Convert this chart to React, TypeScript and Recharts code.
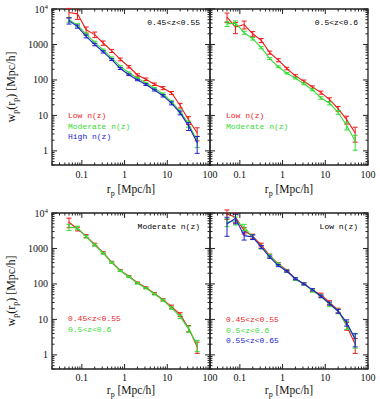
import { LineChart, Line, XAxis, YAxis, ErrorBar, ReferenceArea } from "recharts";

// projected separation bins (Mpc/h)
const rp = [0.05, 0.079, 0.126, 0.2, 0.316, 0.5, 0.794, 1.26, 2.0, 3.16, 5.0, 7.94, 12.6, 20.0, 31.6, 50.1];

// 0.45<z<0.55, split by n(z)
const tlLow = [8000, 7300, 2600, 1900, 1100, 660, 380, 235, 138, 105, 76, 59, 43, 19, 7.4, 3.2];
const tlLowErr = [0.3, 0.3, 0.2, 0.18, 0.14, 0.1, 0.09, 0.08, 0.08, 0.08, 0.08, 0.1, 0.1, 0.15, 0.25, 0.4];
const tlMod = [5000, 3500, 1950, 1150, 700, 420, 240, 160, 112, 82, 58, 40, 24, 13, 5.8, 1.9];
const tlModErr = [0.15, 0.1, 0.08, 0.07, 0.06, 0.06, 0.05, 0.05, 0.05, 0.05, 0.06, 0.07, 0.08, 0.1, 0.2, 0.35];
const tlHigh = [4700, 3200, 1700, 1000, 620, 375, 210, 140, 100, 74, 52, 36, 22, 11.8, 5.0, 1.7];
const tlHighErr = [0.2, 0.1, 0.1, 0.08, 0.07, 0.06, 0.06, 0.05, 0.05, 0.06, 0.06, 0.08, 0.1, 0.12, 0.25, 0.5];

// 0.5<z<0.6
const trLow = [5900, 3100, 3650, 2000, 1300, 590, 360, 210, 130, 92, 63, 44, 28, 15.5, 7.6, 3.2];
const trLowErr = [0.3, 0.35, 0.25, 0.15, 0.13, 0.1, 0.1, 0.08, 0.08, 0.08, 0.08, 0.1, 0.12, 0.15, 0.25, 0.45];
const trMod = [3800, 4000, 2150, 1450, 810, 400, 235, 155, 112, 78, 53, 31, 22, 12.3, 5.2, 1.9];
const trModErr = [0.15, 0.15, 0.1, 0.08, 0.07, 0.06, 0.06, 0.05, 0.05, 0.06, 0.06, 0.08, 0.1, 0.12, 0.25, 0.45];

// moderate n(z), by redshift
const blZ1 = [5500, 3550, 2230, 1300, 760, 410, 240, 165, 108, 79, 54, 36, 23, 13.8, 5.6, 1.7];
const blZ1Err = [0.3, 0.12, 0.1, 0.08, 0.07, 0.06, 0.06, 0.05, 0.05, 0.05, 0.06, 0.07, 0.1, 0.12, 0.2, 0.35];
const blZ2 = [4000, 3800, 2150, 1250, 740, 400, 235, 160, 105, 76, 52, 35, 21, 12, 5.4, 1.9];
const blZ2Err = [0.2, 0.12, 0.08, 0.07, 0.06, 0.06, 0.05, 0.05, 0.05, 0.05, 0.06, 0.07, 0.08, 0.12, 0.2, 0.35];

// low n(z), by redshift
const brZ1 = [9400, 7600, 3200, 2200, 1260, 630, 370, 240, 140, 102, 66, 50, 30, 18, 6.6, 2.0];
const brZ1Err = [0.3, 0.3, 0.2, 0.15, 0.12, 0.1, 0.08, 0.07, 0.07, 0.07, 0.08, 0.1, 0.12, 0.15, 0.25, 0.45];
const brZ2 = [5500, 6100, 4000, 2100, 1100, 620, 360, 230, 135, 100, 64, 45, 26, 17, 7.0, 2.8];
const brZ2Err = [0.25, 0.25, 0.2, 0.15, 0.12, 0.1, 0.08, 0.07, 0.07, 0.07, 0.08, 0.1, 0.12, 0.15, 0.25, 0.45];
const brZ3 = [4900, 7100, 2300, 2100, 1100, 570, 330, 228, 140, 100, 69, 45, 28, 17, 8.1, 2.8];
const brZ3Err = [0.55, 0.3, 0.25, 0.15, 0.1, 0.08, 0.07, 0.06, 0.06, 0.06, 0.07, 0.08, 0.1, 0.12, 0.2, 0.4];

const majorX = [0.1, 1, 10, 100];
const majorY = [1, 10, 100, 1000, 10000];
const X_DOMAIN = [0.02, 100];
const Y_DOMAIN = [0.4, 10000];

const RED = "#ee1c1c";
const GREEN = "#33dd33";
const BLUE = "#2222cc";

// minor log ticks (2..9 per decade) inside a domain
function logTicks(major: number[], lo: number, hi: number) {
  const out = [...major];
  for (let k = -3; k <= 4; k++) {
    for (let m = 2; m <= 9; m++) {
      const v = m * Math.pow(10, k);
      if (v >= lo && v <= hi) out.push(v);
    }
  }
  return out;
}
const xTicks = logTicks(majorX, X_DOMAIN[0], X_DOMAIN[1]);
const yTicks = logTicks(majorY, Y_DOMAIN[0], Y_DOMAIN[1]);

// plot box geometry (chart-local)
const PAD_L = 52;
const PAD_T = 9;
const PAD_R = 14;
const PAD_B = 34;
const BOX_W = 158;
const BOX_H = 156;

const serif = "'Liberation Serif', 'Times New Roman', serif";
const mono = "'Liberation Mono', 'Courier New', monospace";
const AXIS = "#222";

type Series = { values: number[]; errs: number[]; color: string };
type Tag = { text: string; color: string };

function PanelChart({
  left, top, series, showY, corner, tags, tagTop, labelDy, titleDy,
}: {
  left: number; top: number; series: Series[]; showY: boolean;
  corner: string; tags: Tag[]; tagTop: number; labelDy: number; titleDy: number;
}) {
  const rows = rp.map((r, i) => {
    const row: Record<string, number> = { rp: r };
    series.forEach((s, k) => {
      row["v" + k] = s.values[i];
      row["e" + k] = s.values[i] * s.errs[i];
    });
    return row;
  });

  const bottom = PAD_T + BOX_H;
  const right = PAD_L + BOX_W;

  const renderXTick = (props: any) => {
    const { x, payload } = props;
    const major = majorX.includes(payload.value);
    const len = major ? 5 : 2.5;
    return (
      <g>
        <line x1={x} y1={bottom} x2={x} y2={bottom - len} stroke={AXIS} strokeWidth={1} />
        <line x1={x} y1={PAD_T} x2={x} y2={PAD_T + len} stroke={AXIS} strokeWidth={1} />
        {major && (
          <text x={x} y={bottom + labelDy} textAnchor="middle" fontFamily={serif} fontSize={10} fill="#111">
            {payload.value}
          </text>
        )}
      </g>
    );
  };

  const renderYTick = (props: any) => {
    const { y, payload } = props;
    const major = majorY.includes(payload.value);
    const len = major ? 5 : 2.5;
    return (
      <g>
        <line x1={PAD_L} y1={y} x2={PAD_L + len} y2={y} stroke={AXIS} strokeWidth={1} />
        <line x1={right} y1={y} x2={right - len} y2={y} stroke={AXIS} strokeWidth={1} />
        {major && showY && (
          <text x={PAD_L - 4} y={y + 3.5} textAnchor="end" fontFamily={serif} fontSize={10} fill="#111">
            {payload.value === 10000 ? (
              <>
                <tspan>10</tspan>
                <tspan dy={-4} fontSize={7}>4</tspan>
              </>
            ) : (
              payload.value
            )}
          </text>
        )}
      </g>
    );
  };

  const xTitle = () => (
    <text x={PAD_L + BOX_W / 2} y={bottom + titleDy} textAnchor="middle" fontFamily={serif} fontSize={11.5} fill="#111">
      <tspan>r</tspan>
      <tspan dy={3} fontSize={8}>p</tspan>
      <tspan dy={-3}> [Mpc/h]</tspan>
    </text>
  );

  const yTitle = () => (
    <text
      x={0}
      y={0}
      transform={`translate(15, ${PAD_T + BOX_H / 2}) rotate(-90)`}
      textAnchor="middle"
      fontFamily={serif}
      fontSize={12}
      fill="#111"
    >
      <tspan>w</tspan>
      <tspan dy={3} fontSize={8}>p</tspan>
      <tspan dy={-3}>(r</tspan>
      <tspan dy={3} fontSize={8}>p</tspan>
      <tspan dy={-3}>) [Mpc/h]</tspan>
    </text>
  );

  return (
    <div style={{ position: "absolute", left, top }}>
      <LineChart
        width={PAD_L + BOX_W + PAD_R}
        height={PAD_T + BOX_H + PAD_B}
        data={rows}
        margin={{ top: PAD_T, right: PAD_R, bottom: 0, left: 0 }}
        style={{ overflow: "visible" }}
      >
        <XAxis
          dataKey="rp"
          type="number"
          scale="log"
          domain={X_DOMAIN}
          allowDataOverflow
          ticks={xTicks}
          interval={0}
          tick={renderXTick}
          tickLine={false}
          axisLine={false}
          height={PAD_B}
          label={{ content: xTitle }}
        />
        <YAxis
          type="number"
          scale="log"
          domain={Y_DOMAIN}
          allowDataOverflow
          ticks={yTicks}
          interval={0}
          tick={renderYTick}
          tickLine={false}
          axisLine={false}
          width={PAD_L}
          label={showY ? { content: yTitle } : undefined}
        />
        {series.map((s, k) => (
          <Line
            key={k}
            dataKey={"v" + k}
            type="linear"
            stroke={s.color}
            strokeWidth={1.1}
            dot={false}
            isAnimationActive={false}
          >
            <ErrorBar dataKey={"e" + k} direction="y" width={2.5} stroke={s.color} strokeWidth={1} />
          </Line>
        ))}
        <ReferenceArea
          x1={X_DOMAIN[0]}
          x2={X_DOMAIN[1]}
          y1={Y_DOMAIN[0]}
          y2={Y_DOMAIN[1]}
          fill="none"
          stroke={AXIS}
          strokeWidth={1.3}
          ifOverflow="visible"
        />
      </LineChart>
      <div
        style={{
          position: "absolute", left: PAD_L, top: PAD_T + 9, width: BOX_W - 10,
          textAlign: "right", fontFamily: mono, fontSize: 8, lineHeight: "10px", color: "#000",
        }}
      >
        {corner}
      </div>
      <div style={{ position: "absolute", left: PAD_L + 16, top: tagTop, fontFamily: mono, fontSize: 8, lineHeight: "10.5px" }}>
        {tags.map((t, i) => (
          <div key={i} style={{ color: t.color }}>{t.text}</div>
        ))}
      </div>
    </div>
  );
}

export default function App() {
  return (
    <div style={{ position: "absolute", left: 0, top: 0, width: 380, height: 399, background: "#fff", overflow: "hidden" }}>
      <PanelChart
        left={0}
        top={0}
        showY
        corner="0.45<z<0.55"
        series={[
          { values: tlLow, errs: tlLowErr, color: RED },
          { values: tlMod, errs: tlModErr, color: GREEN },
          { values: tlHigh, errs: tlHighErr, color: BLUE },
        ]}
        tags={[
          { text: "Low n(z)", color: RED },
          { text: "Moderate n(z)", color: GREEN },
          { text: "High n(z)", color: BLUE },
        ]}
        tagTop={111}
        labelDy={13}
        titleDy={28}
      />
      <PanelChart
        left={158}
        top={0}
        showY={false}
        corner="0.5<z<0.6"
        series={[
          { values: trLow, errs: trLowErr, color: RED },
          { values: trMod, errs: trModErr, color: GREEN },
        ]}
        tags={[
          { text: "Low n(z)", color: RED },
          { text: "Moderate n(z)", color: GREEN },
        ]}
        tagTop={111}
        labelDy={13}
        titleDy={28}
      />
      <PanelChart
        left={0}
        top={204}
        showY
        corner="Moderate n(z)"
        series={[
          { values: blZ1, errs: blZ1Err, color: RED },
          { values: blZ2, errs: blZ2Err, color: GREEN },
        ]}
        tags={[
          { text: "0.45<z<0.55", color: RED },
          { text: "0.5<z<0.6", color: GREEN },
        ]}
        tagTop={110}
        labelDy={12}
        titleDy={25}
      />
      <PanelChart
        left={158}
        top={204}
        showY={false}
        corner="Low n(z)"
        series={[
          { values: brZ1, errs: brZ1Err, color: RED },
          { values: brZ2, errs: brZ2Err, color: GREEN },
          { values: brZ3, errs: brZ3Err, color: BLUE },
        ]}
        tags={[
          { text: "0.45<z<0.55", color: RED },
          { text: "0.5<z<0.6", color: GREEN },
          { text: "0.55<z<0.65", color: BLUE },
        ]}
        tagTop={111}
        labelDy={12}
        titleDy={25}
      />
    </div>
  );
}
